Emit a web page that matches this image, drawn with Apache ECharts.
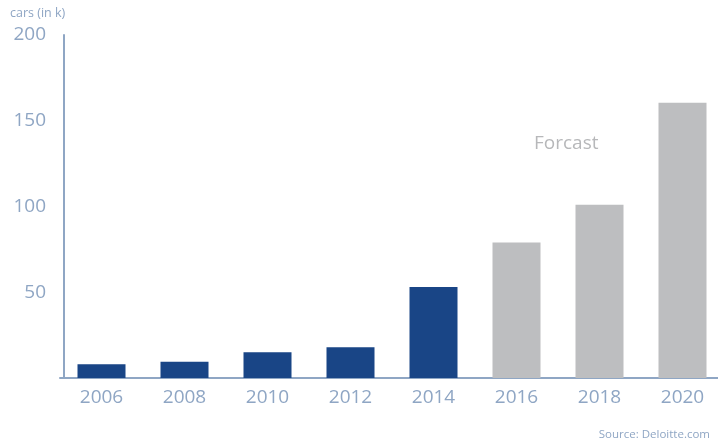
<!DOCTYPE html>
<html><head><meta charset="utf-8">
<script src="https://cdn.jsdelivr.net/npm/echarts@6/dist/echarts.min.js"></script>
<style>html,body{margin:0;padding:0;background:#fff}#c{width:718px;height:446px}</style>
</head><body><div id="c"></div>
<script>
const years = ['2006','2008','2010','2012','2014','2016','2018','2020'];
const actual = [8, 9.5, 15, 18, 53, null, null, null];
const forecast = [null, null, null, null, null, 79, 101, 160.5];
const yTicks = [0, 50, 100, 150, 200];

const chart = echarts.init(document.getElementById('c'));
const axisColor = '#8fa6c4';
chart.setOption({
  animation: false,
  textStyle: {fontFamily: 'Open Sans'},
  grid: {left: 60, width: 664, top: 35, bottom: 68, outerBoundsMode: 'none', containLabel: false},
  xAxis: {
    type: 'category', data: years,
    axisLine: {lineStyle: {color: axisColor, width: 2}},
    axisTick: {show: false},
    axisLabel: {color: axisColor, fontSize: 19, margin: 10, fontFamily: 'Open Sans'}
  },
  yAxis: {
    type: 'value', min: yTicks[0], max: yTicks[yTicks.length-1], interval: 50, offset: -4,
    axisLine: {show: true, lineStyle: {color: axisColor, width: 2}},
    axisTick: {show: false},
    splitLine: {show: false},
    axisLabel: {color: axisColor, fontSize: 19, margin: 18, fontFamily: 'Open Sans',
      formatter: v => v === 0 ? '' : String(v)}
  },
  series: [
    {type: 'bar', data: actual, barWidth: 48, barGap: '-100%', itemStyle: {color: '#194586'}},
    {type: 'bar', data: forecast, barWidth: 48, itemStyle: {color: '#bdbec0'}}
  ],
  graphic: [
    {type: 'text', left: 10, top: 7, style: {text: 'cars (in k)', fill: axisColor, fontSize: 12.5, fontFamily: 'Open Sans'}},
    {type: 'text', left: 534, top: 134, style: {text: 'Forcast', fill: '#b7b8ba', fontSize: 19, fontFamily: 'Open Sans'}},
    {type: 'text', right: 8, top: 429, style: {text: 'Source: Deloitte.com', fill: axisColor, fontSize: 11.5, fontFamily: 'Open Sans'}}
  ]
});
</script></body></html>
